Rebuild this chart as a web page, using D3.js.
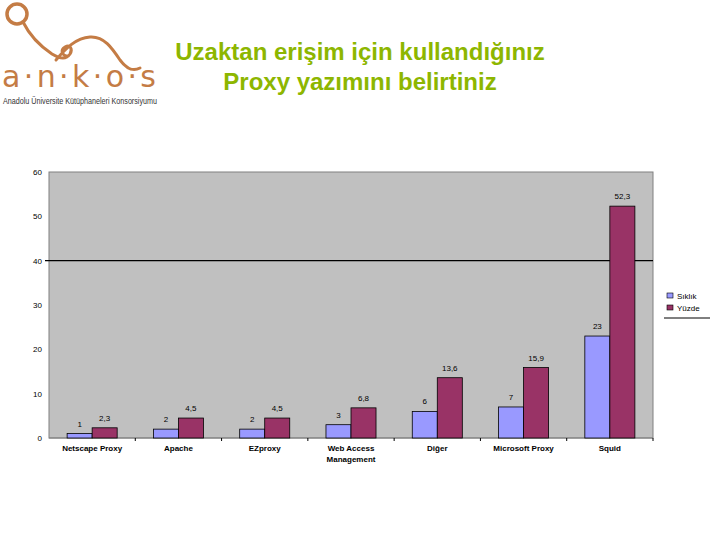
<!DOCTYPE html>
<html>
<head>
<meta charset="utf-8">
<script src="https://cdn.jsdelivr.net/npm/d3@7"></script>
<style>
  body { margin: 0; background: #fff; }
  svg text { font-family: "Liberation Sans", Arial, sans-serif; }
</style>
</head>
<body>
<svg id="chart" width="720" height="540"></svg>
<script>
// data
const categories = ["Netscape Proxy", "Apache", "EZproxy", "Web Access Management", "Diğer", "Microsoft Proxy", "Squid"];
const siklik = [1, 2, 2, 3, 6, 7, 23];
const yuzde = [2.3, 4.5, 4.5, 6.8, 13.6, 15.9, 52.3];
const seriesNames = ["Sıklık", "Yüzde"];
const yTicks = [0, 10, 20, 30, 40, 50, 60];

const svg = d3.select("#chart");
const colors = ["#9999ff", "#993366"];

// ---- logo ----
const logo = svg.append("g").attr("class", "logo");
const logoColor = "#c47c45";
logo.append("circle").attr("cx", 17).attr("cy", 14).attr("r", 10)
  .attr("fill", "none").attr("stroke", logoColor).attr("stroke-width", 3.5);
logo.append("path")
  .attr("d", "M23,22 C30,36 40,46 52,54 C60,59 66,60 70,54 C73,49 70,44 65,47 C60,50 62,56 68,56 M56,60 C66,48 76,38 90,37 C104,36 112,48 120,60 C126,68 132,72 140,68")
  .attr("fill", "none").attr("stroke", logoColor).attr("stroke-width", 3).attr("stroke-linecap", "round");
logo.append("text").attr("x", 2).attr("y", 87)
  .attr("textLength", 154).attr("lengthAdjust", "spacing")
  .style("font-family", "'DejaVu Sans', sans-serif")
  .style("font-size", "30px").attr("fill", logoColor)
  .text("a·n·k·o·s");
logo.append("text").attr("x", 3).attr("y", 104)
  .attr("textLength", 154).attr("lengthAdjust", "spacingAndGlyphs")
  .style("font-size", "9.5px").attr("fill", "#333")
  .text("Anadolu Üniversite Kütüphaneleri Konsorsiyumu");

// ---- title ----
const title = svg.append("text").attr("text-anchor", "middle")
  .attr("fill", "#8db600").style("font-weight", "bold").style("font-size", "24px");
title.append("tspan").attr("x", 360).attr("y", 60).text("Uzaktan erişim için kullandığınız");
title.append("tspan").attr("x", 360).attr("y", 90).text("Proxy yazımını belirtiniz");

// ---- chart ----
const margin = { left: 49, top: 172, right: 653, bottom: 438 };
const x0 = d3.scaleBand().domain(categories).range([margin.left, margin.right]);
const x1 = d3.scaleBand().domain(seriesNames).range([x0.bandwidth() * 0.21, x0.bandwidth() * 0.79]);
const y = d3.scaleLinear().domain([0, 60]).range([margin.bottom, margin.top]);

svg.append("rect")
  .attr("x", margin.left).attr("y", margin.top)
  .attr("width", margin.right - margin.left).attr("height", margin.bottom - margin.top)
  .attr("fill", "#c0c0c0").attr("stroke", "#808080").attr("stroke-width", 1);

// gridline at 40
svg.append("line")
  .attr("x1", margin.left - 4).attr("x2", margin.right)
  .attr("y1", y(40)).attr("y2", y(40))
  .attr("stroke", "#000").attr("stroke-width", 1.2);

// y axis labels
const yAxis = d3.axisLeft(y).tickValues(yTicks).tickSize(0).tickPadding(7);
const gy = svg.append("g").attr("transform", `translate(${margin.left},0)`).call(yAxis);
gy.select(".domain").remove();
gy.selectAll("text").style("font-size", "8px").style("font-family", "'Liberation Sans', Arial, sans-serif").attr("fill", "#000");

// x axis line with ticks at category boundaries
const boundaries = categories.map(c => x0(c)).slice(1).concat([margin.right]);
svg.append("line").attr("x1", margin.left).attr("x2", margin.right)
  .attr("y1", margin.bottom).attr("y2", margin.bottom).attr("stroke", "#808080");
svg.selectAll(".xtick").data(boundaries).enter().append("line")
  .attr("x1", d => d).attr("x2", d => d)
  .attr("y1", margin.bottom).attr("y2", margin.bottom + 3)
  .attr("stroke", "#000");

// bars
const rows = categories.map((c, i) => ({ cat: c, vals: [siklik[i], yuzde[i]] }));
const groups = svg.selectAll(".grp").data(rows).enter().append("g")
  .attr("transform", d => `translate(${x0(d.cat)},0)`);

groups.selectAll("rect").data(d => d.vals.map((v, j) => ({ key: seriesNames[j], v, j })))
  .enter().append("rect")
  .attr("x", d => x1(d.key)).attr("width", x1.bandwidth())
  .attr("y", d => y(d.v)).attr("height", d => y(0) - y(d.v))
  .attr("fill", d => colors[d.j]).attr("stroke", "#000").attr("stroke-width", 0.8);

groups.selectAll(".lbl").data(d => d.vals.map((v, j) => ({ key: seriesNames[j], v, j })))
  .enter().append("text")
  .attr("x", d => x1(d.key) + x1.bandwidth() / 2)
  .attr("y", d => y(d.v) - 7)
  .attr("text-anchor", "middle").style("font-size", "8px").attr("fill", "#000")
  .text(d => String(d.v).replace(".", ","));

// category labels
svg.selectAll(".cat").data(categories).enter().append("text")
  .attr("text-anchor", "middle").style("font-size", "8px").style("font-weight", "bold").attr("fill", "#000")
  .each(function(d) {
    const t = d3.select(this);
    const cx = x0(d) + x0.bandwidth() / 2;
    const parts = d === "Web Access Management" ? ["Web Access", "Management"] : [d];
    parts.forEach((p, k) => t.append("tspan").attr("x", cx).attr("y", 451 + k * 11).text(p));
  });

// legend
const legend = svg.append("g").attr("transform", "translate(667,298)");
seriesNames.forEach((n, i) => {
  legend.append("rect").attr("x", 0).attr("y", i * 12 - 5).attr("width", 6).attr("height", 5)
    .attr("fill", colors[i]).attr("stroke", "#000").attr("stroke-width", 0.6);
  legend.append("text").attr("x", 10).attr("y", i * 12 + 1).style("font-size", "8px").attr("fill", "#000").text(n);
});
legend.append("line").attr("x1", -3).attr("x2", 43).attr("y1", 20).attr("y2", 20).attr("stroke", "#000");
</script>
</body>
</html>
